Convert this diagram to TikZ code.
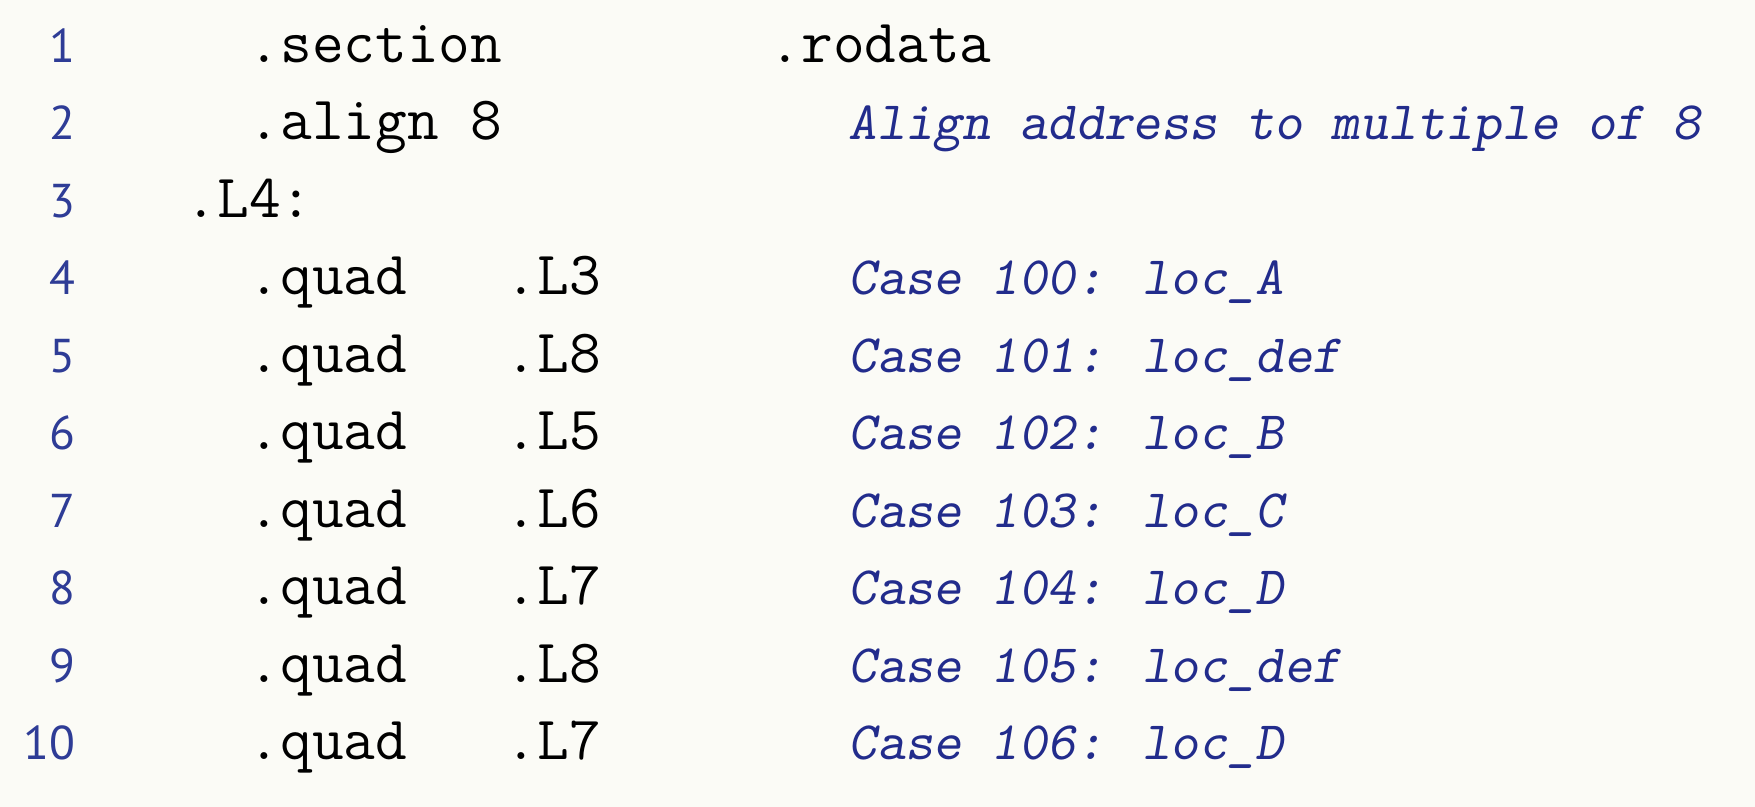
\documentclass[tikz,border=0pt]{standalone}
\usepackage{fontspec}
\newfontfamily\numfont{PT Sans}
\newfontfamily\cmtfont{lmmonoslant10-regular.otf}
\definecolor{mbg}{RGB}{251,251,246}
\definecolor{mnum}{RGB}{46,60,150}
\definecolor{mcmt}{RGB}{34,44,140}
\tikzset{
  lno/.style={anchor=base east, inner sep=0pt, text=mnum,
    font=\numfont\fontsize{13.5}{16}\selectfont},
  asm/.style={anchor=base west, inner sep=0pt,
    font=\ttfamily\fontsize{17.5}{20}\selectfont},
  cmt/.style={anchor=base west, inner sep=0pt, text=mcmt,
    font=\cmtfont\fontsize{15.4}{18}\selectfont}
}

\begin{document}
\begin{tikzpicture}[x=0.1mm, y=-0.1mm]
    \fill [mbg] (0, 0) rectangle (1755, 807);
    \useasboundingbox (0, 0) rectangle (1755, 807);

    % line numbers
    \node [lno] (n1) at (76, 62) {1};
    \node [lno] (n2) at (76, 139.5) {2};
    \node [lno] (n3) at (76, 217) {3};
    \node [lno] (n4) at (76, 294.5) {4};
    \node [lno] (n5) at (76, 372) {5};
    \node [lno] (n6) at (76, 449.5) {6};
    \node [lno] (n7) at (76, 527) {7};
    \node [lno] (n8) at (76, 604.5) {8};
    \node [lno] (n9) at (76, 682) {9};
    \node [lno] (n10) at (76, 759.5) {10};

    % directives and label
    \node [asm] (op1) at (248, 62) {.section};
    \node [asm] (arg1) at (769, 62) {.rodata};
    \node [asm] (op2) at (248, 139.5) {.align 8};
    \node [asm] (lbl3) at (185, 217) {.L4:};

    % jump table entries
    \node [asm] (op4) at (248, 294.5) {.quad};
    \node [asm] (op5) at (248, 372) {.quad};
    \node [asm] (op6) at (248, 449.5) {.quad};
    \node [asm] (op7) at (248, 527) {.quad};
    \node [asm] (op8) at (248, 604.5) {.quad};
    \node [asm] (op9) at (248, 682) {.quad};
    \node [asm] (op10) at (248, 759.5) {.quad};

    \node [asm] (arg4) at (505, 294.5) {.L3};
    \node [asm] (arg5) at (505, 372) {.L8};
    \node [asm] (arg6) at (505, 449.5) {.L5};
    \node [asm] (arg7) at (505, 527) {.L6};
    \node [asm] (arg8) at (505, 604.5) {.L7};
    \node [asm] (arg9) at (505, 682) {.L8};
    \node [asm] (arg10) at (505, 759.5) {.L7};

    % comments
    \node [cmt] (c2) at (848, 139.5) {Align address to multiple of 8};
    \node [cmt] (c4) at (848, 294.5) {Case 100: loc\_A};
    \node [cmt] (c5) at (848, 372) {Case 101: loc\_def};
    \node [cmt] (c6) at (848, 449.5) {Case 102: loc\_B};
    \node [cmt] (c7) at (848, 527) {Case 103: loc\_C};
    \node [cmt] (c8) at (848, 604.5) {Case 104: loc\_D};
    \node [cmt] (c9) at (848, 682) {Case 105: loc\_def};
    \node [cmt] (c10) at (848, 759.5) {Case 106: loc\_D};
  \end{tikzpicture}
\end{document}
